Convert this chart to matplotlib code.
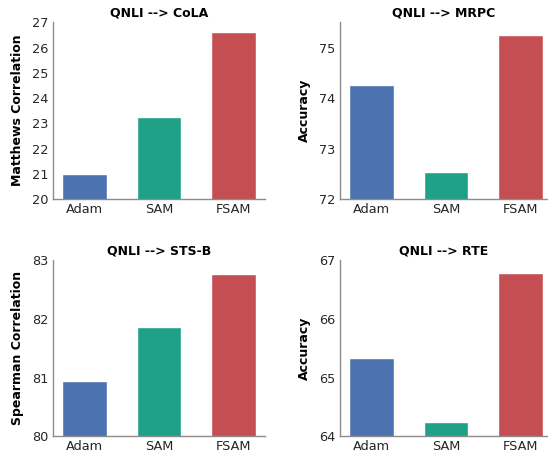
import numpy as np
import matplotlib.pyplot as plt

methods = ['Adam', 'SAM', 'FSAM']
colors = ['#4C72B0', '#1FA187', '#C44E52']

titles = ['QNLI --> CoLA', 'QNLI --> MRPC', 'QNLI --> STS-B', 'QNLI --> RTE']
ylabels = ['Matthews Correlation', 'Accuracy', 'Spearman Correlation', 'Accuracy']

cola = [21.0, 23.25, 26.6]
mrpc = [74.25, 72.54, 75.25]
stsb = [80.95, 81.87, 82.76]
rte = [65.33, 64.25, 66.78]

ylims = [(20, 27), (72, 75.5), (80, 83), (64, 67)]
yticks = [np.arange(20, 28, 1), [72, 73, 74, 75], [80, 81, 82, 83], [64, 65, 66, 67]]

W, H = 548, 454
fig = plt.figure(figsize=(W / 100, H / 100), dpi=100)

# axes boxes in pixels: left, top, right, bottom
boxes = [(52.7, 22.3, 265, 199), (339.7, 22.3, 548, 199),
         (52.7, 260.3, 265, 436.3), (339.7, 260.3, 548, 436.3)]
xlims = [(-0.425, 2.425), (-0.427, 2.37), (-0.425, 2.425), (-0.427, 2.37)]

data = [cola, mrpc, stsb, rte]
x = np.arange(len(methods))
for i in range(4):
    l, t, r, b = boxes[i]
    ax = fig.add_axes([l / W, 1 - b / H, (r - l) / W, (b - t) / H])
    ax.bar(x, data[i], width=0.6, color=colors, edgecolor='white', linewidth=1)
    ax.set_xlim(*xlims[i])
    ax.set_ylim(*ylims[i])
    ax.set_yticks(yticks[i])
    ax.set_xticks(x)
    ax.set_xticklabels(methods)
    ax.tick_params(length=0, labelsize=9.3, colors='#262626', pad=3)
    for s in ['top', 'right']:
        ax.spines[s].set_visible(False)
    for s in ['left', 'bottom']:
        ax.spines[s].set_color('#8c8c8c')
        ax.spines[s].set_linewidth(1.0)
    ax.set_title(titles[i], fontsize=9, fontweight='bold', pad=4)
    ax.set_ylabel(ylabels[i], fontsize=9, fontweight='bold', labelpad=6)

plt.savefig('out.png', dpi=100)
